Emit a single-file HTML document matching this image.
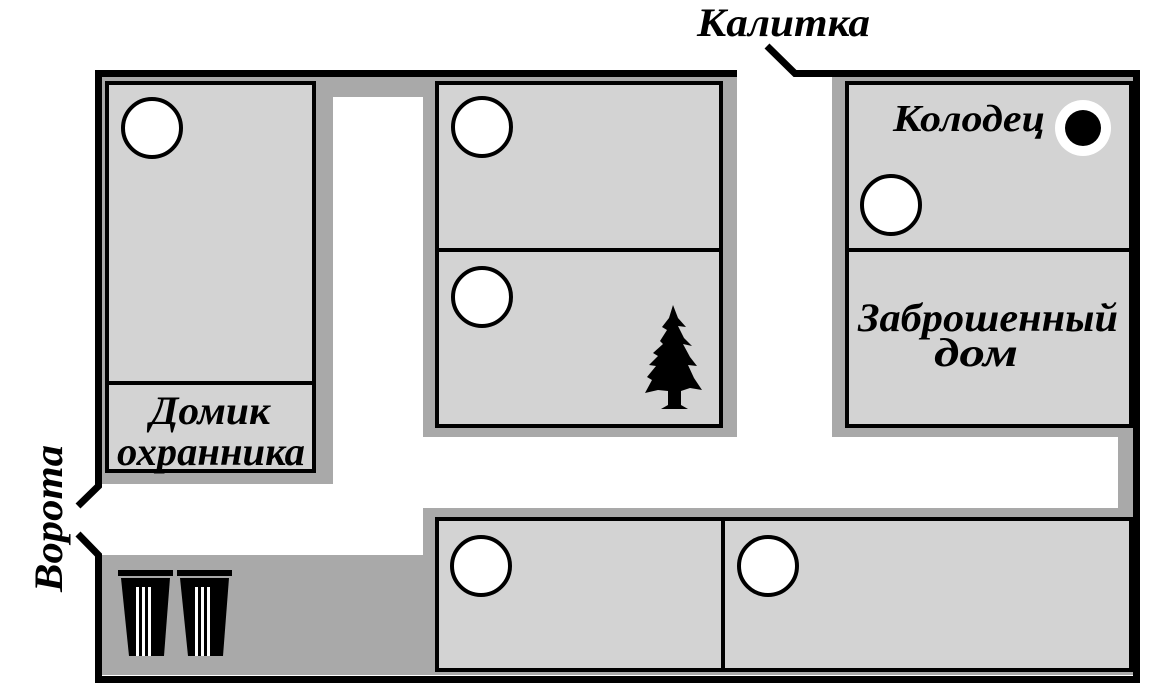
<!DOCTYPE html>
<html><head><meta charset="utf-8"><style>
html,body{margin:0;padding:0;background:#fff;width:1152px;height:697px;overflow:hidden}
text{font-family:"Liberation Serif","DejaVu Serif",serif;font-weight:bold;font-style:italic;fill:#000}
</style></head><body>
<svg width="1152" height="697" viewBox="0 0 1152 697" xmlns="http://www.w3.org/2000/svg">
<g fill="#a9a9a9">
<rect x="102" y="77" width="231" height="407"/>
<rect x="333" y="77" width="404" height="20"/>
<rect x="423" y="77" width="314" height="360"/>
<rect x="832" y="77" width="301" height="360"/>
<rect x="1118" y="437" width="15" height="73"/>
<rect x="423" y="508" width="710" height="167"/>
<rect x="102" y="555" width="321" height="120"/>
</g>
<g stroke="#000" stroke-width="7" fill="none" stroke-linejoin="miter">
<polyline points="737,73.5 98.5,73.5 98.5,486 78,506"/>
<polyline points="78,534 98.5,555 98.5,679.5 1136.5,679.5 1136.5,73.5 795,73.5 767,46"/>
</g>
<g fill="#d3d3d3" stroke="#000" stroke-width="4">
<rect x="107" y="83" width="207" height="300"/>
<rect x="107" y="383" width="207" height="88"/>
<rect x="437" y="83" width="284" height="167"/>
<rect x="437" y="250" width="284" height="176"/>
<rect x="847" y="83" width="284" height="167"/>
<rect x="847" y="250" width="284" height="176"/>
<rect x="437" y="519" width="286" height="151"/>
<rect x="723" y="519" width="408" height="151"/>
</g>
<g fill="#fff" stroke="#000" stroke-width="4">
<circle cx="152" cy="128" r="29"/>
<circle cx="482" cy="127" r="29"/>
<circle cx="482" cy="297" r="29"/>
<circle cx="891" cy="205" r="29"/>
<circle cx="481" cy="566" r="29"/>
<circle cx="768" cy="566" r="29"/>
</g>
<circle cx="1083" cy="128" r="28" fill="#fff"/>
<circle cx="1083" cy="128" r="18" fill="#000"/>
<path fill="#000" d="M673,305 L678,318 L686,327 L678,326 L684,338 L692,346 L683,344 L690,357 L697,366 L688,365 L694,378 L702,390 L690,388 L681,391 L681,405 L688,409 L661,409 L668,405 L668,391 L658,390 L645,393 L652,380 L647,377 L656,366 L649,365 L658,356 L653,353 L663,344 L660,341 L667,330 L662,327 L669,318 Z"/>
<g>
<rect x="118" y="570" width="55" height="6" fill="#000"/>
<polygon points="121,578 170,578 164,656 129,656" fill="#000"/>
<rect x="136" y="587" width="3" height="69" fill="#fff"/>
<rect x="142" y="587" width="3" height="69" fill="#fff"/>
<rect x="148" y="587" width="3" height="69" fill="#fff"/>
<rect x="177" y="570" width="55" height="6" fill="#000"/>
<polygon points="180,578 229,578 223,656 188,656" fill="#000"/>
<rect x="195" y="587" width="3" height="69" fill="#fff"/>
<rect x="201" y="587" width="3" height="69" fill="#fff"/>
<rect x="207" y="587" width="3" height="69" fill="#fff"/>
</g>
<text x="697" y="36" font-size="40" textLength="173" lengthAdjust="spacingAndGlyphs">Калитка</text>
<text x="893" y="131" font-size="38" textLength="152" lengthAdjust="spacingAndGlyphs">Колодец</text>
<text x="858" y="331" font-size="40" textLength="260" lengthAdjust="spacingAndGlyphs">Заброшенный</text>
<text x="934" y="366" font-size="40" textLength="84" lengthAdjust="spacingAndGlyphs">дом</text>
<text x="150" y="424" font-size="40" textLength="120" lengthAdjust="spacingAndGlyphs">Домик</text>
<text x="117" y="465" font-size="40" textLength="188" lengthAdjust="spacingAndGlyphs">охранника</text>
<text transform="translate(62,592) rotate(-90)" font-size="40" textLength="147" lengthAdjust="spacingAndGlyphs">Ворота</text>
</svg>
</body></html>
